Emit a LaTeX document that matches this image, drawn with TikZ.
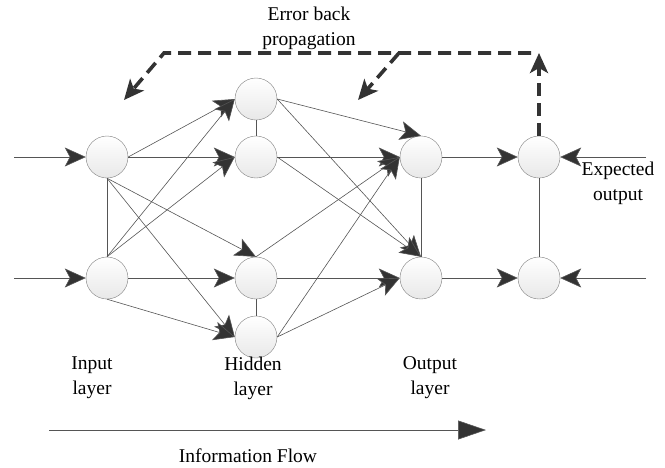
\documentclass[tikz,border=0pt]{standalone}
\usepackage{fontspec}
\setmainfont{Liberation Serif}
\usetikzlibrary{arrows.meta}
\definecolor{linegray}{HTML}{555555}
\definecolor{tipgray}{HTML}{333333}
\tikzset{
	neuron/.style={
		circle,
		draw=gray,
		minimum size=42pt,
		inner sep=0pt,
		top color=white,
		bottom color=gray!18
	},
	link/.style={
		draw=linegray,
		line width=0.6pt
	},
	flow/.style={
		link,
		-{Stealth[length=21pt,width=19pt,inset=5pt,fill=tipgray]}
	},
	errline/.style={
		draw=tipgray,
		line width=3.6pt,
		dash pattern=on 13pt off 7pt
	},
	layertext/.style={
		align=center,
		font=\rmfamily\fontsize{19.5}{25}\selectfont
	}
}

\begin{document}
\begin{tikzpicture}[x=1pt,y=-1pt]
	\useasboundingbox (0,0) rectangle (665,467);
	% neurons
	\node[neuron] (I1) at (107,157) {};
	\node[neuron] (I2) at (107,278) {};
	\node[neuron] (H1) at (256,99) {};
	\node[neuron] (H2) at (256,157) {};
	\node[neuron] (H3) at (256,278) {};
	\node[neuron] (H4) at (256,337) {};
	\node[neuron] (O1) at (421,157) {};
	\node[neuron] (O2) at (421,278) {};
	\node[neuron] (E1) at (539,157) {};
	\node[neuron] (E2) at (539,278) {};
	\coordinate (in1) at (14,157);
	\coordinate (in2) at (14,278);
	\coordinate (ex1) at (646,157);
	\coordinate (ex2) at (646,278);
	% vertical links
	\draw[link] (I1.south) -- (I2.north);
	\draw[link] (H1.south) -- (H2.north);
	\draw[link] (H3.south) -- (H4.north);
	\draw[link] (O1.south) -- (O2.north);
	\draw[link] (E1.south) -- (E2.north);
	% input side
	\draw[flow] (in1) -- (I1.west);
	\draw[flow] (in2) -- (I2.west);
	\draw[flow] (I1.east) -- (H1.west);
	\draw[flow] (I1.east) -- (H2.west);
	\draw[flow] (I1.south) -- (H3.north);
	\draw[flow] (I1.south) -- (H4.west);
	\draw[flow] (I2.north) -- (H1.west);
	\draw[flow] (I2.north) -- (H2.west);
	\draw[flow] (I2.east) -- (H3.west);
	\draw[flow] (I2.south) -- (H4.west);
	% hidden to output
	\draw[flow] (H1.east) -- (O1.north);
	\draw[flow] (H1.east) -- (O2.north);
	\draw[flow] (H2.east) -- (O1.west);
	\draw[flow] (H2.east) -- (O2.north);
	\draw[flow] (H3.north) -- (O1.west);
	\draw[flow] (H3.east) -- (O2.west);
	\draw[flow] (H4.east) -- (O1.west);
	\draw[flow] (H4.east) -- (O2.west);
	% output to expected
	\draw[flow] (O1.east) -- (E1.west);
	\draw[flow] (O2.east) -- (E2.west);
	\draw[flow] (ex1) -- (E1.east);
	\draw[flow] (ex2) -- (E2.east);
	% error back propagation
	\coordinate (ebtop) at (539,53);
	\coordinate (ebleft) at (164,53);
	\coordinate (ebmid) at (399,53);
	\coordinate (eb1) at (124,100);
	\coordinate (eb2) at (358,100);
	\draw[errline,-{Stealth[length=20pt,width=18pt,inset=5pt]}] (E1.north) -- (ebtop);
	\draw[errline,-{Stealth[length=20pt,width=18pt,inset=5pt]}] ([xshift=-8pt]ebtop) -- (ebleft) -- (eb1);
	\draw[errline,-{Stealth[length=20pt,width=18pt,inset=5pt]}] (ebmid) -- (eb2);
	% information flow
	\coordinate (if1) at (49,430);
	\coordinate (if2) at (486,430);
	\draw[link,-{Stealth[length=28pt,width=19pt,inset=0pt,fill=tipgray]}] (if1) -- (if2);
	% texts
	\node[layertext] (errtxt) at (309,28) {Error back\\propagation};
	\node[layertext] (exptxt) at (618,183) {Expected\\output};
	\node[layertext] (intxt) at (92,378) {Input\\layer};
	\node[layertext] (hidtxt) at (253,378) {Hidden\\layer};
	\node[layertext] (outtxt) at (430,378) {Output\\layer};
	\node[layertext] (iftxt) at (248,456) {Information Flow};
\end{tikzpicture}
\end{document}
